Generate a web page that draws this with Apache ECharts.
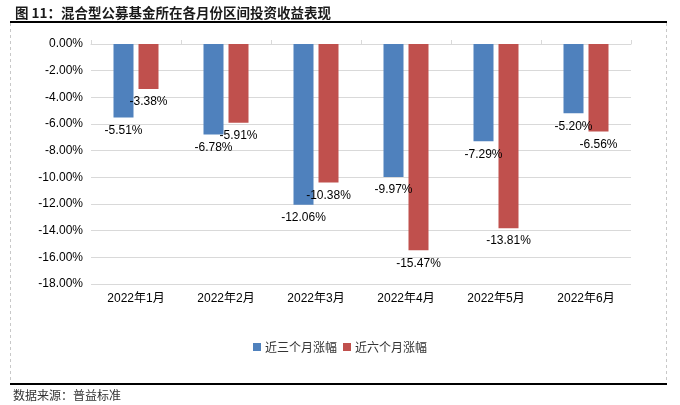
<!DOCTYPE html>
<html>
<head>
<meta charset="utf-8">
<script src="https://cdn.jsdelivr.net/npm/echarts@6/dist/echarts.min.js"></script>
<style>html,body{margin:0;padding:0;background:#fff;}#c{width:680px;height:405px;}</style>
</head>
<body>
<div id="c"></div>
<script>
const categories = ['2022年1月','2022年2月','2022年3月','2022年4月','2022年5月','2022年6月'];
const seriesNames = ['近三个月涨幅','近六个月涨幅'];
const threeMonth = [-5.51, -6.78, -12.06, -9.97, -7.29, -5.20];
const sixMonth = [-3.38, -5.91, -10.38, -15.47, -13.81, -6.56];
const titleText = '图 11：混合型公募基金所在各月份区间投资收益表现';
const sourceText = '数据来源：普益标准';

const FONT = '"Liberation Sans", "Noto Sans CJK SC", sans-serif';
const CJK = '"Noto Sans CJK SC", sans-serif';
const chart = echarts.init(document.getElementById('c'), null, {renderer: 'canvas'});
const lbl = {
  show: true, position: 'bottom', distance: 7,
  fontFamily: FONT, fontSize: 12, color: '#000',
  formatter: p => p.value.toFixed(2) + '%'
};
chart.setOption({
  animation: false,
  backgroundColor: '#fff',
  title: {
    text: titleText, left: 10, top: 1,
    textStyle: {fontFamily: CJK, fontSize: 13.5, fontWeight: 'bold', color: '#1a1a1a'}
  },
  legend: {
    data: seriesNames, bottom: 47, left: 'center',
    itemWidth: 8, itemHeight: 8, itemGap: 6,
    icon: 'rect',
    textStyle: {fontFamily: CJK, fontSize: 12, color: '#333', padding: [0,0,0,-1]}
  },
  grid: {left: 91, right: 49, top: 44, bottom: 121},
  xAxis: [
    {
      type: 'category', data: categories, position: 'bottom',
      axisLine: {show: false, onZero: false}, axisTick: {show: false},
      axisLabel: {fontFamily: FONT, fontSize: 12, color: '#000', margin: 9}
    },
    {
      type: 'category', data: categories, position: 'top',
      axisLine: {show: true, onZero: false, lineStyle: {color: '#d9d9d9', width: 1}},
      axisTick: {show: true, length: 4, lineStyle: {color: '#d9d9d9'}},
      axisLabel: {show: false}
    }
  ],
  yAxis: {
    type: 'value', min: -18, max: 0, interval: 2,
    axisLine: {show: false}, axisTick: {show: false},
    splitLine: {lineStyle: {color: '#d9d9d9', width: 1}},
    axisLabel: {
      fontFamily: FONT, fontSize: 12, color: '#000', margin: 8,
      formatter: v => v.toFixed(2) + '%'
    }
  },
  series: [
    {name: seriesNames[0], type: 'bar', data: threeMonth, barWidth: 20, barGap: '25%',
     itemStyle: {color: '#4F81BD'}, label: lbl},
    {name: seriesNames[1], type: 'bar', data: sixMonth, barWidth: 20, barGap: '25%',
     itemStyle: {color: '#C0504D'}, label: lbl}
  ],
  graphic: [
    {type: 'line', shape: {x1: 10, y1: 22, x2: 667, y2: 22}, style: {stroke: '#000', lineWidth: 2}},
    {type: 'line', shape: {x1: 10, y1: 384, x2: 667, y2: 384}, style: {stroke: '#000', lineWidth: 2}},
    {type: 'line', shape: {x1: 10.5, y1: 23, x2: 10.5, y2: 383}, style: {stroke: '#c8c8c8', lineWidth: 1, lineDash: [3,3]}},
    {type: 'line', shape: {x1: 666.5, y1: 23, x2: 666.5, y2: 383}, style: {stroke: '#c8c8c8', lineWidth: 1, lineDash: [3,3]}},
    {type: 'text', left: 13, top: 389, style: {text: sourceText, font: '12px "Noto Sans CJK SC", sans-serif', fill: '#333'}}
  ]
});
</script>
</body>
</html>
